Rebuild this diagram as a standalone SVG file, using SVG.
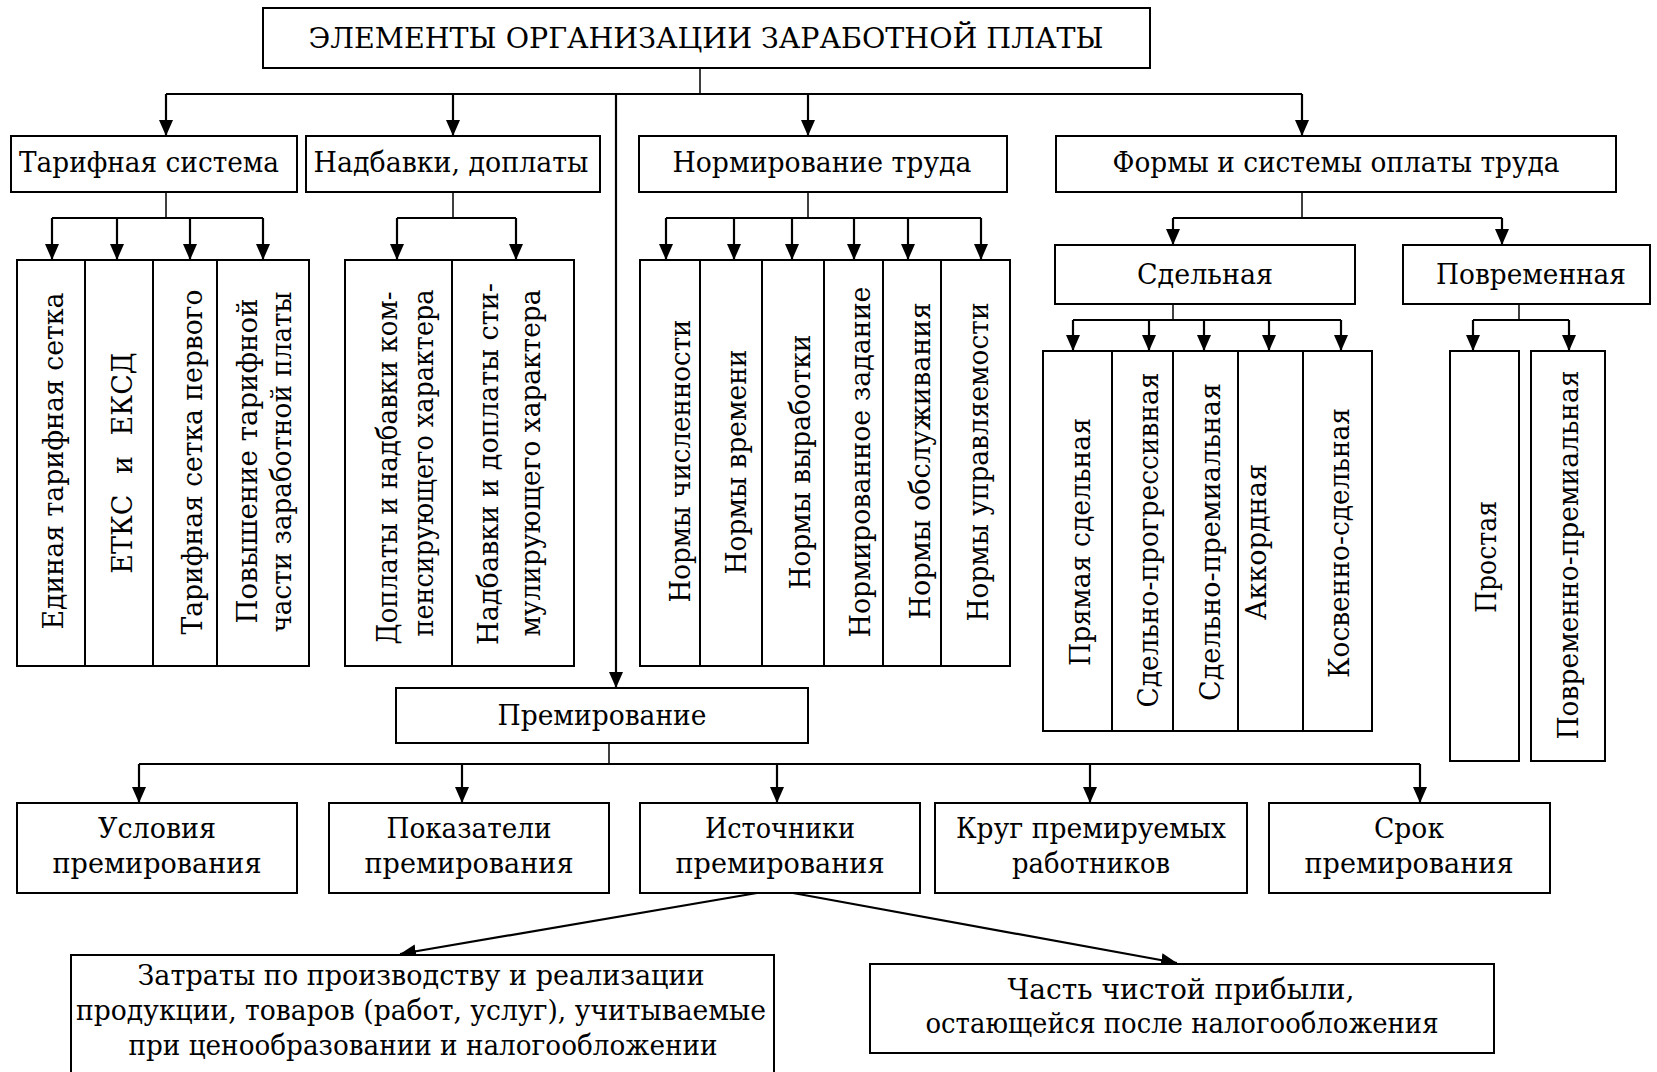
<svg xmlns="http://www.w3.org/2000/svg" width="1657" height="1072" viewBox="0 0 1657 1072">
<style>
.box{fill:#fff;stroke:#000;stroke-width:2}
.t{font-family:"DejaVu Serif","Liberation Serif",serif;font-size:27px;fill:#000;text-anchor:middle}
.c{fill:none;stroke:#000;stroke-width:2.2}
.s{fill:none;stroke:#000;stroke-width:1.5}
.a{marker-end:url(#ah)}
</style>
<defs>
<marker id="ah" markerUnits="userSpaceOnUse" markerWidth="16" markerHeight="14" refX="16" refY="7" orient="auto">
<path d="M0,0 L16,7 L0,14 z" fill="#000"/>
</marker>
</defs>
<rect width="1657" height="1072" fill="#fff"/>

<g id="connectors">
<path class="s" d="M700,68 V94 M166,192 V218 M453,192 V218 M808,192 V218 M1302,192 V218 M1173,304 V320 M1519,304 V320 M609,743 V764"/>
<path class="c" d="M166,94 H1302 M52,218 H263 M397,218 H516 M666,218 H981 M1173,218 H1502 M1073,320 H1341 M1473,320 H1569 M139,764 H1420"/>
<path class="c a" d="M166,94 V136"/>
<path class="c a" d="M453,94 V136"/>
<path class="c a" d="M808,94 V136"/>
<path class="c a" d="M1302,94 V136"/>
<path class="c a" d="M616,94 V688"/>
<path class="c a" d="M52,218 V260"/>
<path class="c a" d="M117,218 V260"/>
<path class="c a" d="M190,218 V260"/>
<path class="c a" d="M263,218 V260"/>
<path class="c a" d="M397,218 V260"/>
<path class="c a" d="M516,218 V260"/>
<path class="c a" d="M666,218 V260"/>
<path class="c a" d="M734,218 V260"/>
<path class="c a" d="M792,218 V260"/>
<path class="c a" d="M854,218 V260"/>
<path class="c a" d="M908,218 V260"/>
<path class="c a" d="M981,218 V260"/>
<path class="c a" d="M1173,218 V245"/>
<path class="c a" d="M1502,218 V245"/>
<path class="c a" d="M1073,320 V351"/>
<path class="c a" d="M1149,320 V351"/>
<path class="c a" d="M1204,320 V351"/>
<path class="c a" d="M1269,320 V351"/>
<path class="c a" d="M1341,320 V351"/>
<path class="c a" d="M1473,320 V351"/>
<path class="c a" d="M1569,320 V351"/>
<path class="c a" d="M139,764 V803"/>
<path class="c a" d="M462,764 V803"/>
<path class="c a" d="M777,764 V803"/>
<path class="c a" d="M1090,764 V803"/>
<path class="c a" d="M1420,764 V803"/>
<path class="c a" d="M757,893 L400,954"/>
<path class="c a" d="M793,893 L1177,963"/>
</g>

<g id="root"><rect class="box" x="263" y="8" width="887" height="60"/><text class="t" x="706" y="48" font-size="30" textLength="795" lengthAdjust="spacingAndGlyphs">ЭЛЕМЕНТЫ ОРГАНИЗАЦИИ ЗАРАБОТНОЙ ПЛАТЫ</text></g>

<g id="tarif"><rect class="box" x="11" y="136" width="286" height="56"/><text class="t" x="149" y="172" textLength="260" lengthAdjust="spacingAndGlyphs">Тарифная система</text></g>
<g id="nadbavki"><rect class="box" x="306" y="136" width="294" height="56"/><text class="t" x="451" y="172" textLength="275" lengthAdjust="spacingAndGlyphs">Надбавки, доплаты</text></g>
<g id="normirovanie"><rect class="box" x="639" y="136" width="368" height="56"/><text class="t" x="822" y="172" textLength="299" lengthAdjust="spacingAndGlyphs">Нормирование труда</text></g>
<g id="formy"><rect class="box" x="1056" y="136" width="560" height="56"/><text class="t" x="1336" y="172" textLength="447" lengthAdjust="spacingAndGlyphs">Формы и системы оплаты труда</text></g>

<g id="t1"><rect class="box" x="17" y="260" width="68" height="406"/><text class="t" transform="translate(63,461) rotate(-90)" textLength="337" lengthAdjust="spacingAndGlyphs">Единая тарифная сетка</text></g>
<g id="t2"><rect class="box" x="85" y="260" width="68" height="406"/><text class="t" transform="translate(132,463) rotate(-90)" word-spacing="12">ЕТКС и ЕКСД</text></g>
<g id="t3"><rect class="box" x="153" y="260" width="64" height="406"/><text class="t" transform="translate(202,462) rotate(-90)" textLength="345" lengthAdjust="spacingAndGlyphs">Тарифная сетка первого</text></g>
<g id="t4"><rect class="box" x="217" y="260" width="92" height="406"/><text class="t" transform="translate(257,461) rotate(-90)" textLength="325" lengthAdjust="spacingAndGlyphs">Повышение тарифной</text><text class="t" transform="translate(291,462) rotate(-90)" textLength="341" lengthAdjust="spacingAndGlyphs">части заработной платы</text></g>

<g id="n1"><rect class="box" x="345" y="260" width="107" height="406"/><text class="t" transform="translate(397,468) rotate(-90)" textLength="353" lengthAdjust="spacingAndGlyphs">Доплаты и надбавки ком-</text><text class="t" transform="translate(433,463) rotate(-90)" textLength="347" lengthAdjust="spacingAndGlyphs">пенсирующего характера</text></g>
<g id="n2"><rect class="box" x="452" y="260" width="122" height="406"/><text class="t" transform="translate(498,464) rotate(-90)" textLength="362" lengthAdjust="spacingAndGlyphs">Надбавки и доплаты сти-</text><text class="t" transform="translate(540,463) rotate(-90)" textLength="347" lengthAdjust="spacingAndGlyphs">мулирующего характера</text></g>

<g id="m1"><rect class="box" x="640" y="260" width="60" height="406"/><text class="t" transform="translate(690,461) rotate(-90)" textLength="283" lengthAdjust="spacingAndGlyphs">Нормы численности</text></g>
<g id="m2"><rect class="box" x="700" y="260" width="62" height="406"/><text class="t" transform="translate(746,462) rotate(-90)" textLength="225" lengthAdjust="spacingAndGlyphs">Нормы времени</text></g>
<g id="m3"><rect class="box" x="762" y="260" width="62" height="406"/><text class="t" transform="translate(810,462) rotate(-90)" textLength="255" lengthAdjust="spacingAndGlyphs">Нормы выработки</text></g>
<g id="m4"><rect class="box" x="824" y="260" width="59" height="406"/><text class="t" transform="translate(870,462) rotate(-90)" textLength="351" lengthAdjust="spacingAndGlyphs">Нормированное задание</text></g>
<g id="m5"><rect class="box" x="883" y="260" width="58" height="406"/><text class="t" transform="translate(930,461) rotate(-90)" textLength="317" lengthAdjust="spacingAndGlyphs">Нормы обслуживания</text></g>
<g id="m6"><rect class="box" x="941" y="260" width="69" height="406"/><text class="t" transform="translate(988,462) rotate(-90)" textLength="319" lengthAdjust="spacingAndGlyphs">Нормы управляемости</text></g>

<g id="sdelnaya"><rect class="box" x="1055" y="245" width="300" height="59"/><text class="t" x="1205" y="284" textLength="136" lengthAdjust="spacingAndGlyphs">Сдельная</text></g>
<g id="povremennaya"><rect class="box" x="1403" y="245" width="247" height="59"/><text class="t" x="1531" y="284" textLength="190" lengthAdjust="spacingAndGlyphs">Повременная</text></g>

<g id="s1"><rect class="box" x="1043" y="351" width="69" height="380"/><text class="t" transform="translate(1090,542) rotate(-90)" textLength="248" lengthAdjust="spacingAndGlyphs">Прямая сдельная</text></g>
<g id="s2"><rect class="box" x="1112" y="351" width="61" height="380"/><text class="t" transform="translate(1158,540) rotate(-90)" textLength="335" lengthAdjust="spacingAndGlyphs">Сдельно-прогрессивная</text></g>
<g id="s3"><rect class="box" x="1173" y="351" width="65" height="380"/><text class="t" transform="translate(1220,542) rotate(-90)" textLength="318" lengthAdjust="spacingAndGlyphs">Сдельно-премиальная</text></g>
<g id="s4"><rect class="box" x="1238" y="351" width="65" height="380"/><text class="t" transform="translate(1266,542) rotate(-90)" textLength="156" lengthAdjust="spacingAndGlyphs">Аккордная</text></g>
<g id="s5"><rect class="box" x="1303" y="351" width="69" height="380"/><text class="t" transform="translate(1349,543) rotate(-90)" textLength="270" lengthAdjust="spacingAndGlyphs">Косвенно-сдельная</text></g>

<g id="p1"><rect class="box" x="1450" y="351" width="69" height="410"/><text class="t" transform="translate(1496,557) rotate(-90)" textLength="112" lengthAdjust="spacingAndGlyphs">Простая</text></g>
<g id="p2"><rect class="box" x="1531" y="351" width="74" height="410"/><text class="t" transform="translate(1578,555) rotate(-90)" textLength="369" lengthAdjust="spacingAndGlyphs">Повременно-премиальная</text></g>

<g id="premirovanie"><rect class="box" x="396" y="688" width="412" height="55"/><text class="t" x="602" y="725" textLength="209" lengthAdjust="spacingAndGlyphs">Премирование</text></g>

<g id="b1"><rect class="box" x="17" y="803" width="280" height="90"/><text class="t" x="157" y="838" textLength="118" lengthAdjust="spacingAndGlyphs">Условия</text><text class="t" x="157" y="873" textLength="209" lengthAdjust="spacingAndGlyphs">премирования</text></g>
<g id="b2"><rect class="box" x="329" y="803" width="280" height="90"/><text class="t" x="469" y="838" textLength="165" lengthAdjust="spacingAndGlyphs">Показатели</text><text class="t" x="469" y="873" textLength="209" lengthAdjust="spacingAndGlyphs">премирования</text></g>
<g id="b3"><rect class="box" x="640" y="803" width="280" height="90"/><text class="t" x="780" y="838" textLength="150" lengthAdjust="spacingAndGlyphs">Источники</text><text class="t" x="780" y="873" textLength="209" lengthAdjust="spacingAndGlyphs">премирования</text></g>
<g id="b4"><rect class="box" x="935" y="803" width="312" height="90"/><text class="t" x="1091" y="838" textLength="270" lengthAdjust="spacingAndGlyphs">Круг премируемых</text><text class="t" x="1091" y="873" textLength="158" lengthAdjust="spacingAndGlyphs">работников</text></g>
<g id="b5"><rect class="box" x="1269" y="803" width="281" height="90"/><text class="t" x="1409" y="838" textLength="70" lengthAdjust="spacingAndGlyphs">Срок</text><text class="t" x="1409" y="873" textLength="209" lengthAdjust="spacingAndGlyphs">премирования</text></g>

<g id="zatraty"><rect class="box" x="71" y="955" width="703" height="130"/><text class="t" x="421" y="985" textLength="567" lengthAdjust="spacingAndGlyphs">Затраты по производству и реализации</text><text class="t" x="421" y="1020" textLength="690" lengthAdjust="spacingAndGlyphs">продукции, товаров (работ, услуг), учитываемые</text><text class="t" x="423" y="1055" textLength="589" lengthAdjust="spacingAndGlyphs">при ценообразовании и налогообложении</text></g>
<g id="pribyl"><rect class="box" x="870" y="964" width="624" height="89"/><text class="t" x="1181" y="999" textLength="347" lengthAdjust="spacingAndGlyphs">Часть чистой прибыли,</text><text class="t" x="1182" y="1033" textLength="513" lengthAdjust="spacingAndGlyphs">остающейся после налогообложения</text></g>
</svg>
